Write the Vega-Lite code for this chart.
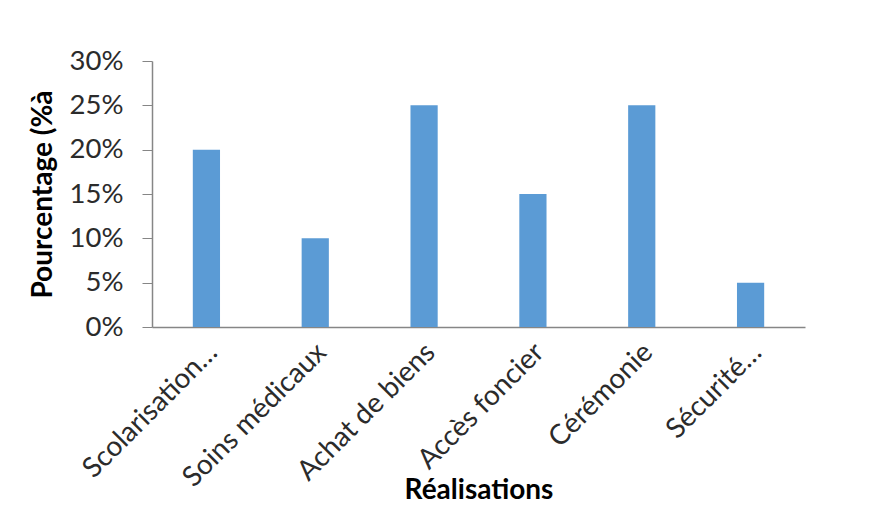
{
  "$schema": "https://vega.github.io/schema/vega-lite/v6.json",
  "width": 653,
  "height": 266,
  "autosize": {"type": "none"},
  "padding": {"left": 152, "top": 61, "right": 71, "bottom": 182},
  "background": "white",
  "config": {
    "font": "Lato",
    "view": {"stroke": null},
    "axis": {"labelFont": "Lato", "titleFont": "Lato", "domainColor": "#868686", "tickColor": "#868686", "labelColor": "#2b2b2b", "titleColor": "#000000"}
  },
  "data": {
    "values": [
      {"cat": "Scolarisation…", "v": 0.20},
      {"cat": "Soins médicaux", "v": 0.10},
      {"cat": "Achat de biens", "v": 0.25},
      {"cat": "Accès foncier", "v": 0.15},
      {"cat": "Cérémonie", "v": 0.25},
      {"cat": "Sécurité…", "v": 0.05}
    ]
  },
  "mark": {"type": "bar", "color": "#5B9BD5"},
  "encoding": {
    "x": {
      "field": "cat", "type": "nominal", "sort": null,
      "scale": {"paddingInner": 0.75, "paddingOuter": 0.375},
      "axis": {
        "title": "Réalisations", "titleFontSize": 28, "titleFontWeight": "bold",
        "titleY": 171, "titleBaseline": "alphabetic",
        "labelAngle": -45, "labelAlign": "right", "labelBaseline": "top",
        "labelFontSize": 28, "labelLimit": 500, "ticks": false, "labelPadding": 11, "labelOffset": -3,
        "domainWidth": 1.5
      }
    },
    "y": {
      "field": "v", "type": "quantitative",
      "scale": {"domain": [0, 0.3]},
      "axis": {
        "title": "Pourcentage (%à", "titleFontSize": 28, "titleFontWeight": "bold",
        "values": [0, 0.05, 0.1, 0.15, 0.2, 0.25, 0.3], "format": ".0%",
        "grid": false, "tickSize": 10, "labelPadding": 19, "labelFontSize": 27.5,
        "titlePadding": 12, "domainWidth": 1.5
      }
    }
  }
}
